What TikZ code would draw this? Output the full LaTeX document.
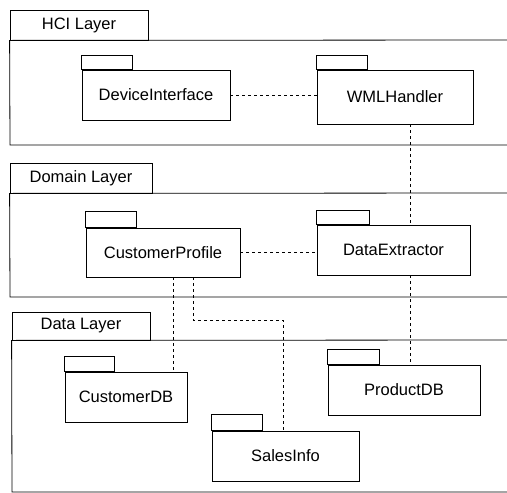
\documentclass[tikz,border=0pt]{standalone}
\usepackage{fontspec}
\setmainfont{Liberation Sans}
\usepackage{tikz}
\usetikzlibrary{calc}
\tikzset{
	pkg/.style={draw,thick,minimum height=50pt,inner sep=0pt,font=\fontsize{16.5}{19}\selectfont},
	layertab/.style={draw,thick,minimum height=30pt,inner sep=0pt,font=\fontsize{16.5}{19}\selectfont},
	dep/.style={thick,dash pattern=on 3pt off 3pt}
}
% tab on top of a package
\def\pkgtab#1#2#3{\draw[thick] (#1.north west) rectangle ++(#2,-#3);}

\begin{document}
\begin{tikzpicture}[x=1pt,y=-1pt]
	\useasboundingbox (0,0) rectangle (507,493);
	% layers
	\node[layertab,minimum width=138pt] (hcitab) at (79,25) {HCI Layer};
	\draw[thick] (507,40)--(hcitab.south west)--(10,145)--(507,145);
	\node[layertab,minimum width=142pt] (domtab) at (81,178) {Domain Layer};
	\draw[thick] (507,193)--(domtab.south west)--(10,297)--(507,297);
	\node[layertab,minimum width=138pt,minimum height=28pt] (datatab) at (81,326) {Data Layer};
	\draw[thick] (507,340)--(datatab.south west)--(12,492)--(507,492);
	% packages
	\node[pkg,minimum width=148pt] (devif) at (156,95) {DeviceInterface};
	\pkgtab{devif}{51}{14}
	\node[pkg,minimum width=156pt,minimum height=54pt] (wml) at (395,97) {WMLHandler};
	\pkgtab{wml}{51}{14}
	\node[pkg,minimum width=154pt,minimum height=49pt] (custprof) at (163,252.5) {CustomerProfile};
	\pkgtab{custprof}{51}{16}
	\node[pkg,minimum width=153pt] (dataext) at (393.5,250) {DataExtractor};
	\pkgtab{dataext}{53}{14}
	\node[pkg,minimum width=122pt] (custdb) at (126,397) {CustomerDB};
	\pkgtab{custdb}{50}{15}
	\node[pkg,minimum width=147pt] (sales) at (285.5,456) {SalesInfo};
	\pkgtab{sales}{51}{16}
	\node[pkg,minimum width=152pt] (proddb) at (404,390) {ProductDB};
	\pkgtab{proddb}{52}{15}
	% dependencies
	\draw[dep] (devif.east)--(devif.east -| wml.west);
	\draw[dep] ([xshift=15pt]wml.south)--([xshift=15pt]wml.south |- dataext.north);
	\draw[dep] (custprof.east)--(custprof.east -| dataext.west);
	\draw[dep] ([xshift=16.5pt]dataext.south)--([xshift=16.5pt]dataext.south |- proddb.north);
	\draw[dep] ([xshift=10pt]custprof.south)--([xshift=10pt]custprof.south |- custdb.north);
	\coordinate (bend) at (283,320);
	\draw[dep] ([xshift=30pt]custprof.south) |- (bend)--(bend |- sales.north);
\end{tikzpicture}
\end{document}
